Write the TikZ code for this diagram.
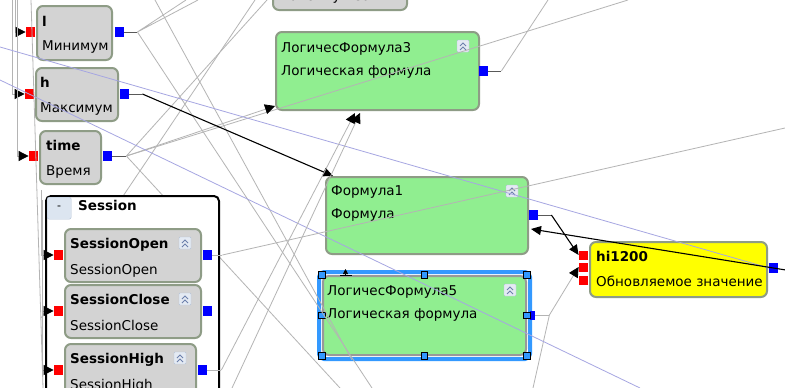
\documentclass[tikz,border=0pt]{standalone}
\usepackage{fontspec}
\setmainfont{DejaVu Sans}
\usetikzlibrary{positioning, arrows.meta, calc}
\definecolor{nodegray}{HTML}{D3D3D3}
\definecolor{nodegreen}{HTML}{90EE90}
\definecolor{nodeyellow}{HTML}{FFFF00}
\definecolor{sage}{HTML}{8E9C86}
\definecolor{wiregray}{HTML}{B4B4B4}
\definecolor{wireblue}{HTML}{A6A6E2}
\definecolor{selblue}{HTML}{3399FF}
\definecolor{iconfill}{HTML}{E4EAF3}
\definecolor{iconedge}{HTML}{B4C3D8}
\definecolor{iconmark}{HTML}{6C80AC}
\definecolor{btnfill}{HTML}{DCE5F0}

\tikzset{
  block/.style={draw=sage, line width=2pt, rounded corners=6pt, anchor=north west, inner sep=0pt},
  grayblock/.style={block, fill=nodegray},
  greenblock/.style={block, fill=nodegreen},
  yellowblock/.style={block, fill=nodeyellow},
  title/.style={anchor=base west, inner sep=0pt, font=\fontsize{13.5}{15}\selectfont\bfseries},
  sub/.style={anchor=base west, inner sep=0pt, font=\fontsize{13.5}{15}\selectfont},
  port/.style={minimum width=9pt, minimum height=10pt, inner sep=0pt},
  inport/.style={port, fill=red, anchor=east},
  outport/.style={port, fill=blue, anchor=west},
  icon/.style={draw=iconedge, fill=iconfill, minimum size=12pt, inner sep=0pt, rounded corners=1pt},
  chevron/.style={draw=iconmark, line width=1pt},
  handle/.style={fill=selblue, draw=black, line width=0.6pt, minimum size=6.5pt, inner sep=0pt},
  wire/.style={draw=wiregray, line width=0.8pt},
  stub/.style={draw=black!65, line width=1pt},
  feed/.style={wire, -{Triangle[length=10pt, width=10pt, color=black, fill=black]}},
  link/.style={draw=black, line width=1.1pt, -{Triangle[length=10pt, width=9pt]}},
  blueline/.style={draw=wireblue, line width=0.8pt}
}

\newcommand{\collapseicon}[1]{%
  \node[icon] (#1icon) at ($(#1.north east)+(-17,15)$) {};
  \draw[chevron] ($(#1icon.center)+(-3,0)$) -- ++(3,-3) -- ++(3,3)
                 ($(#1icon.center)+(-3,4)$) -- ++(3,-3) -- ++(3,3);}

\begin{document}
\begin{tikzpicture}[x=1pt, y=-1pt]
  \useasboundingbox (0,0) rectangle (785,388);
  \clip (0,0) rectangle (785,388);
  \fill[white] (0,0) rectangle (785,388);

  % blocks of the left column
  \node[grayblock, minimum width=134pt, minimum height=53pt] (maxblk) at (272,-44) {};
  \node[sub] at ($(maxblk.north west)+(6,45)$) {Максимум за};

  \node[grayblock, minimum width=75pt, minimum height=54pt] (lblk) at (36,5) {};
  \node[title] at ($(lblk.north west)+(6,21)$) {l};
  \node[sub] at ($(lblk.north west)+(6,45)$) {Минимум};
  \node[inport] (lin) at ($(lblk.north west)+(-1,27)$) {};
  \node[outport] (lout) at ($(lblk.north east)+(2,27)$) {};

  \node[grayblock, minimum width=82pt, minimum height=53pt] (hblk) at (35,67) {};
  \node[title] at ($(hblk.north west)+(5,20)$) {h};
  \node[sub] at ($(hblk.north west)+(5,45)$) {Максимум};
  \node[inport] (hin) at ($(hblk.north west)+(-1,27)$) {};
  \node[outport] (hout) at ($(hblk.north east)+(1,27)$) {};

  \node[grayblock, minimum width=61pt, minimum height=53pt] (tblk) at (39,130) {};
  \node[title] at ($(tblk.north west)+(7,20)$) {time};
  \node[sub] at ($(tblk.north west)+(7,45)$) {Время};
  \node[inport] (tin) at ($(tblk.north west)+(-1,26)$) {};
  \node[outport] (tout) at ($(tblk.north east)+(1,26)$) {};

  % formula blocks
  \node[greenblock, minimum width=203pt, minimum height=78pt] (lf3) at (275,31) {};
  \node[sub] at ($(lf3.north west)+(6,21)$) {ЛогичесФормула3};
  \node[sub] at ($(lf3.north west)+(6,44)$) {Логическая формула};
  \collapseicon{lf3}
  \node[outport] (lf3out) at ($(lf3.north east)+(-1,40)$) {};

  \node[greenblock, minimum width=202pt, minimum height=77pt] (f1) at (325,176) {};
  \node[sub] at ($(f1.north west)+(6,19)$) {Формула1};
  \node[sub] at ($(f1.north west)+(6,42)$) {Формула};
  \collapseicon{f1}
  \node[outport] (f1out) at ($(f1.north east)+(0,39)$) {};

  \node[greenblock, draw=black!40, minimum width=203pt, minimum height=79pt] (lf5) at (322,275) {};
  \draw[selblue, line width=4pt, rounded corners=5pt]
    ($(lf5.north west)+(-3,-3)$) rectangle ($(lf5.south east)+(3,3)$);
  \node[sub] at ($(lf5.north west)+(5,20)$) {ЛогичесФормула5};
  \node[sub] at ($(lf5.north west)+(5,43)$) {Логическая формула};
  \collapseicon{lf5}
  \node[outport, minimum width=5pt, minimum height=9pt] (lf5out) at ($(lf5.north east)+(3,40)$) {};
  \foreach \a in {north west, north, north east, west, east, south west, south, south east}
    \node[handle] at (lf5.\a) {};

  \node[yellowblock, minimum width=177pt, minimum height=55pt] (hi) at (589,241) {};
  \node[title] at ($(hi.north west)+(7,20)$) {hi1200};
  \node[sub] at ($(hi.north west)+(7,45)$) {Обновляемое значение};
  \node[inport, minimum height=9pt] (hiin1) at ($(hi.north west)+(-1,14)$) {};
  \node[inport, minimum height=9pt] (hiin2) at ($(hi.north west)+(-1,26)$) {};
  \node[inport, minimum height=9pt] (hiin3) at ($(hi.north west)+(-1,39)$) {};
  \node[outport] (hiout) at ($(hi.north east)+(1,27)$) {};

  % gray wires
  \draw[feed] (15,0) |- (lin.west);
  \draw[feed] (12,0) |- (hin.west);
  \draw[feed] (17,0) |- (tin.west);
  \draw[wire] (31,0) -- (43,388);
  \draw[wire] (255,0) -- (41,318);
  \draw[wire] (155,0) -- (352,360);

  \draw[stub] (lout.east) -- ++(13,0) coordinate (lfan);
  \draw[wire] (lfan) -- (186,0) (lfan) -- (198,0) (lfan) -- (372,388);

  \draw[stub] (tout.east) -- ++(14,0) coordinate (tfan);
  \draw[wire] (tfan) -- (267,0) (tfan) -- (628,0) (tfan) -- (340,388);
  \draw[feed] (tfan) -- ($(lf3.south west)+(0,-5)$);

  \draw[stub] (lf3out.east) -- ++(13,0) coordinate (lf3fan);
  \draw[wire] (lf3fan) -- (548,0);

  \draw[stub, draw=wiregray] (lf5out.east) -- ++(14,0) coordinate (lf5fan);
  \draw[feed] (lf5fan) -- (hiin2.west);
  \draw[wire] (lf5fan) -- (533,388);

  % blue lines
  \draw[blueline] (0,47) -- (hiout.west);
  \draw[blueline] (0,80) -- (640,388);

  % black links
  \draw[stub] (hout.east) -- ++(13,0) coordinate (hfan);
  \draw[link] (hfan) -- ($(f1.north west)+(8,0)$);
  \draw[stub] (f1out.east) -- ++(13,0) coordinate (f1fan);
  \draw[link] (f1fan) -- (hiin1.west);
  \coordinate (offR) at (792,271);
  \draw[link] (offR) -- ($(f1.north east)+(2,53)$);
  \draw[line width=1pt] ($(lf5.north west)+(18,0)$) -- ++(12,0);
  \draw[line width=0.6pt, -{Triangle[length=5pt, width=5pt]}] ($(lf5.north west)+(23.5,0)$) -- ++(0,-6);

  % session group
  \node[block, draw=black, fill=white, rounded corners=5pt, minimum width=173pt, minimum height=225pt] (sess) at (45,195) {};
  \node[draw=iconedge, fill=btnfill, rounded corners=2pt, minimum width=24pt, minimum height=22pt,
        inner sep=0pt, font=\fontsize{11}{13}\selectfont, below right=2pt and 2pt of sess.north west] (minus) {-};
  \node[title] at ($(sess.north west)+(33,15)$) {Session};

  \node[grayblock, minimum width=136pt, minimum height=53pt] (soblk) at (64,228) {};
  \node[title] at ($(soblk.north west)+(6,20)$) {SessionOpen};
  \node[sub] at ($(soblk.north west)+(6,46)$) {SessionOpen};
  \collapseicon{soblk}
  \node[inport] (soin) at ($(soblk.north west)+(-1,27)$) {};
  \node[outport] (soout) at ($(soblk.north east)+(1,27)$) {};

  \node[grayblock, minimum width=136pt, minimum height=53pt] (scblk) at (64,284) {};
  \node[title] at ($(scblk.north west)+(6,20)$) {SessionClose};
  \node[sub] at ($(scblk.north west)+(6,46)$) {SessionClose};
  \collapseicon{scblk}
  \node[inport] (scin) at ($(scblk.north west)+(-1,27)$) {};
  \node[outport] (scout) at ($(scblk.north east)+(1,27)$) {};

  \node[grayblock, minimum width=131pt, minimum height=53pt] (shblk) at (64,343) {};
  \node[title] at ($(shblk.north west)+(6,20)$) {SessionHigh};
  \node[sub] at ($(shblk.north west)+(6,46)$) {SessionHigh};
  \collapseicon{shblk}
  \node[inport] (shin) at ($(shblk.north west)+(-1,27)$) {};
  \node[outport] (shout) at ($(shblk.north east)+(1,27)$) {};

  \draw[feed] (41,190) |- (soin.west);
  \draw[feed] (42,200) |- (scin.west);
  \draw[feed] (42,210) |- (shin.west);

  \draw[stub, draw=wiregray] (soout.east) -- ++(10,0) coordinate (sofan);
  \draw[wire] (sofan) -- (785,128);
  \draw[stub, draw=wiregray] (shout.east) -- ++(14,0) coordinate (shfan);
  \draw[feed] (shfan) -- ($(lf3.south west)+(80,2)$);
  \draw[feed] (232,388) -- ($(lf3.south west)+(85,2)$);
\end{tikzpicture}
\end{document}
